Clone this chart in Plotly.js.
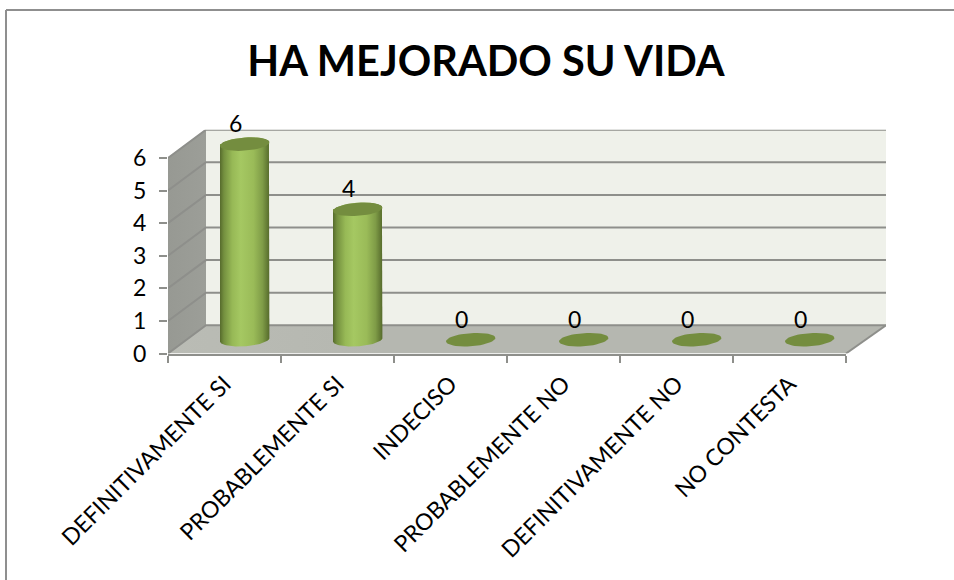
<!DOCTYPE html>
<html><head><meta charset="utf-8">
<script src="https://cdn.plot.ly/plotly-3.0.1.min.js"></script>
<style>html,body{margin:0;padding:0;background:#fff}#c{width:954px;height:580px}</style>
</head><body><div id="c"></div>
<script>
const titleText = 'HA MEJORADO SU VIDA';
const categories = ['DEFINITIVAMENTE SI','PROBABLEMENTE SI','INDECISO','PROBABLEMENTE NO','DEFINITIVAMENTE NO','NO CONTESTA'];
const values = [6,4,0,0,0,0];
const yTicks = [0,1,2,3,4,5,6];

const W=954,H=580,FONT='Lato, Carlito, "Open Sans", sans-serif';
const dom=(a,b)=>[a/W,b/W], vdom=(bot,top)=>[(H-bot)/H,(H-top)/H];
const UX=113, UY=32.6;          // px per category, px per value unit
const dL=38/UX, dR=40/UX, dY=28.2/UY, L=-0.5, R=5.5, TOP=6;
const traces=[];

// ---- 3D frame (walls, floor, gridlines) on hidden axes x / y
const fr={xaxis:'x',yaxis:'y',hoverinfo:'skip',showlegend:false,type:'scatter'};
const poly=(x,y,extra)=>traces.push(Object.assign({},fr,{x,y,mode:'lines',fill:'toself',line:{width:0}},extra));
poly([L+dL,R+dR,R+dR,L+dL],[dY,dY,TOP+dY,TOP+dY],{fillcolor:'#eff1ea'});
poly([L,L+dL,L+dL,L],[0,dY,TOP+dY,TOP],{fillgradient:{type:'horizontal',colorscale:[[0,'#979993'],[1,'#9c9e98']]}});
poly([L,R,R+dR,L+dL],[0,0,dY,dY],{fillgradient:{type:'horizontal',colorscale:[[0,'#babcb5'],[0.3,'#b5b7b0'],[1,'#b5b7b0']]}});
const gx=[],gy=[];
yTicks.forEach(v=>{gx.push(L,L+dL,R+dR,null);gy.push(v,v+dY,v+dY,null);});
traces.push(Object.assign({},fr,{x:gx,y:gy,mode:'lines',line:{color:'#8e8f8b',width:2}}));
traces.push(Object.assign({},fr,{x:[R,R+dR],y:[0,dY],mode:'lines',line:{color:'#8e8f8b',width:2}}));

// ---- front axes x2 / y2 carrying the category and value scales
traces.push({type:'scatter',x:categories,y:values,xaxis:'x2',yaxis:'y2',mode:'markers',marker:{opacity:0},hoverinfo:'skip',showlegend:false});

// ---- cylinders on hidden axes x3 / y3
const idx=categories.map((_,i)=>i);
traces.push({type:'bar',x:idx,y:values,width:0.44,xaxis:'x3',yaxis:'y3',marker:{color:'#93b351',line:{width:0}},
  hovertext:categories,hoverinfo:'text+y',showlegend:false});
const A=24.7/UX,B=6.6/UY,S=1.7/UY,N=48;
const arc=(c,v,t0,t1)=>{const xs=[],ys=[];for(let k=0;k<=N;k++){const t=t0+(t1-t0)*k/N;
  xs.push(c+A*Math.cos(t));ys.push(v+B*Math.sin(t)+S*Math.cos(t));}return [xs,ys];};
const grad=[[0,'#566b2c'],[0.08,'#74903f'],[0.25,'#97b956'],[0.42,'#a5c862'],[0.68,'#9abb58'],[0.86,'#7f9c47'],[1,'#566b2c']];
const cyl={xaxis:'x3',yaxis:'y3',type:'scatter',mode:'lines',line:{width:0},fill:'toself',hoverinfo:'skip',showlegend:false};
idx.forEach(i=>{const v=values[i];
  if(v>0){const [bx,by]=arc(i,0,Math.PI,2*Math.PI),[tx,ty]=arc(i,v,0,Math.PI);
    traces.push(Object.assign({},cyl,{x:bx.concat(tx),y:by.concat(ty),fillgradient:{type:'horizontal',colorscale:grad}}));}
  const [cx,cy]=arc(i,v,0,2*Math.PI);
  traces.push(Object.assign({},cyl,{x:cx,y:cy,fillcolor:'#748d3f'}));
});

const annotations=idx.map(i=>({xref:'x3',yref:'y3',x:i,y:values[i],text:String(values[i]),showarrow:false,
  xshift:-9,yshift:21,xanchor:'center',yanchor:'middle',font:{family:FONT,size:23,color:'#000'}}));

const hidden={visible:false,fixedrange:true};
const layout={width:W,height:H,margin:{l:0,r:0,t:0,b:0,pad:0},paper_bgcolor:'#fff',plot_bgcolor:'rgba(0,0,0,0)',showlegend:false,bargap:0,
  title:{text:titleText,x:486/W,xanchor:'center',y:1-61/H,yanchor:'middle',font:{family:FONT,size:41.5,color:'#000',weight:700}},
  xaxis:Object.assign({},hidden,{domain:dom(168,846+40),range:[L,R+dR],anchor:'y'}),
  yaxis:Object.assign({},hidden,{domain:vdom(353.5,353.5-UY*(TOP+dY)),range:[0,TOP+dY],anchor:'x'}),
  xaxis2:{domain:dom(168,846),type:'category',categoryorder:'array',categoryarray:categories,range:[L,R],anchor:'y2',
    tickson:'boundaries',ticks:'outside',ticklen:7,tickwidth:1.5,tickcolor:'#8e8f8b',showline:true,linecolor:'#8e8f8b',linewidth:2,showgrid:false,zeroline:false,
    tickangle:-45,tickfont:{family:FONT,size:23,color:'#000'},ticklabelstandoff:6,fixedrange:true},
  yaxis2:{domain:vdom(353.5,353.5-UY*TOP),range:[0,TOP],anchor:'x2',tickvals:yTicks,ticks:'outside',ticklen:8,tickwidth:1.5,tickcolor:'#8e8f8b',
    showline:false,showgrid:false,zeroline:false,tickfont:{family:FONT,size:23,color:'#000'},ticklabelstandoff:8,fixedrange:true},
  xaxis3:Object.assign({},hidden,{domain:dom(188.2,866.2),range:[L,R],anchor:'y3'}),
  yaxis3:Object.assign({},hidden,{domain:vdom(339.7+UY,339.7-UY*7.5),range:[-1,7.5],anchor:'x3'}),
  annotations,
  shapes:[
    {type:'line',xref:'paper',yref:'paper',x0:6/W,x1:6/W,y0:0,y1:1-10/H,line:{color:'#8f8f8f',width:2}},
    {type:'line',xref:'paper',yref:'paper',x0:6/W,x1:1,y0:1-10/H,y1:1-10/H,line:{color:'#8f8f8f',width:2}}
  ]};
Plotly.newPlot('c',traces,layout,{displayModeBar:false,staticPlot:false});
</script></body></html>
